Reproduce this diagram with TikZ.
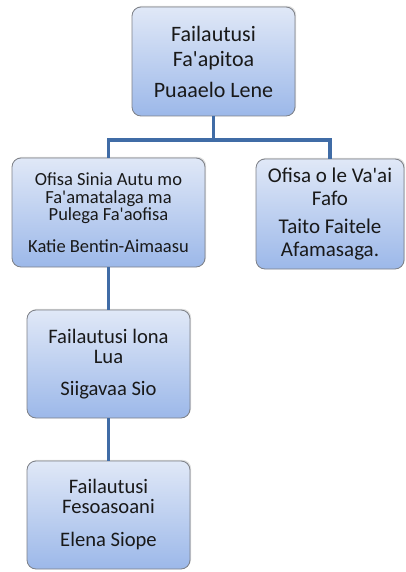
\documentclass[tikz,border=0pt]{standalone}
\usepackage{fontspec}
\setmainfont{Carlito}
\usetikzlibrary{shadows}
\definecolor{boxtop}{RGB}{224,232,247}
\definecolor{boxbottom}{RGB}{156,184,233}
\definecolor{boxline}{RGB}{125,128,135}
\definecolor{linkblue}{RGB}{64,108,166}
\newcommand{\q}{\textquotesingle}
\tikzstyle{office} = [rectangle, rounded corners=9pt, draw=boxline, line width=0.8pt, top color=boxtop, bottom color=boxbottom, text=black!90, align=center, inner sep=0pt, drop shadow={opacity=0.25, shadow xshift=1.2pt, shadow yshift=1.2pt}]
\tikzstyle{link} = [linkblue, line width=3.2pt]

\begin{document}
\begin{tikzpicture}[x=1pt, y=1pt, yscale=-1]
\useasboundingbox (0, 0) rectangle (406, 572);

\node at (213.5, 61.5) (apitoa) [office, minimum width=163pt, minimum height=109pt, font=\fontsize{22}{25.7}\selectfont] {Failautusi\\Fa\q apitoa\\[4.6pt]Puaaelo Lene};
\node at (108.5, 212.5) (sinia) [office, minimum width=193pt, minimum height=109pt, font=\fontsize{18.5}{17.5}\selectfont] {Ofisa Sinia Autu mo\\Fa\q amatalaga ma\\Pulega Fa\q aofisa\\[14pt]Katie Bentin-Aimaasu};
\node at (330, 214) (vaai) [office, minimum width=148pt, minimum height=110pt, font=\fontsize{21}{22.5}\selectfont] {Ofisa o le Va\q ai\\Fafo\\[6pt]Taito Faitele\\Afamasaga.};
\node at (108.5, 364) (lua) [office, minimum width=163pt, minimum height=108pt, font=\fontsize{20.6}{20}\selectfont] {Failautusi lona\\Lua\\[12pt]Siigavaa Sio};
\node at (108.5, 515) (fesoasoani) [office, minimum width=163pt, minimum height=108pt, font=\fontsize{20.6}{20}\selectfont] {Failautusi\\Fesoasoani\\[13pt]Elena Siope};

\coordinate (bar) at (213.5, 140);

\draw [link] (apitoa) -- (bar);
\draw [link] (bar) -| (sinia);
\draw [link] (bar) -| (vaai);
\draw [link] (sinia) -- (lua);
\draw [link] (lua) -- (fesoasoani);

\end{tikzpicture}
\end{document}
